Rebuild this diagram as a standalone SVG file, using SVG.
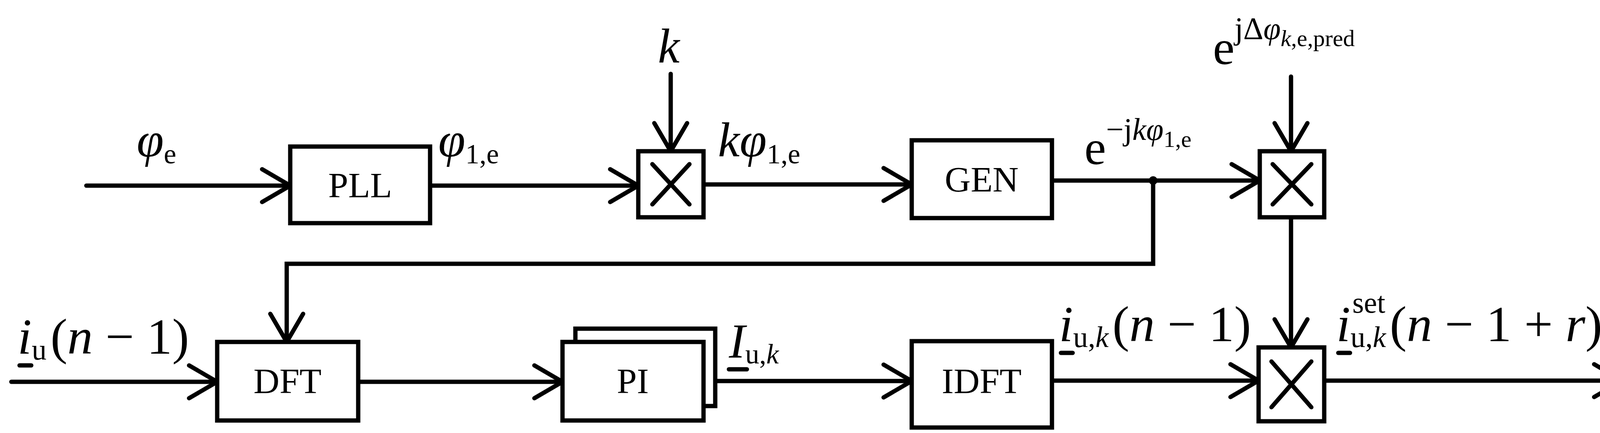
<svg xmlns="http://www.w3.org/2000/svg" width="4184" height="1108" viewBox="0 0 4184 1108">
<style>
.b{fill:#fff;stroke:#000;stroke-width:11}
.l{fill:none;stroke:#000;stroke-width:11;stroke-linecap:round}
.t{font-family:"Liberation Serif",serif;fill:#000}
.i{font-style:italic}
.n{font-size:92px;text-anchor:middle}
</style>
<defs>
<marker id="a" markerUnits="userSpaceOnUse" markerWidth="120" markerHeight="120" viewBox="-100 -60 120 120" refX="0" refY="0" orient="auto">
<path d="M-72,-42 L0,0 L-72,42" fill="none" stroke="#000" stroke-width="11" stroke-linecap="round"/>
</marker>
</defs>
<rect width="4184" height="1108" fill="#fff"/>
<g id="connectors">
<path class="l" d="M221,475 H743" marker-end="url(#a)"/>
<path class="l" d="M1106,475 H1634" marker-end="url(#a)"/>
<path class="l" d="M1717,189 V387" marker-end="url(#a)"/>
<path class="l" d="M1801,472 H2334" marker-end="url(#a)"/>
<path class="l" d="M2693,462 H3225" marker-end="url(#a)"/>
<path class="l" d="M2952,462 V675 H734 V875" marker-end="url(#a)"/>
<circle cx="2952" cy="462" r="11" fill="#000"/>
<path class="l" d="M3305,196 V387" marker-end="url(#a)"/>
<path class="l" d="M3305,556 V889" marker-end="url(#a)"/>
<path class="l" d="M29,977 H556" marker-end="url(#a)"/>
<path class="l" d="M917,977 H1440" marker-end="url(#a)"/>
<path class="l" d="M1831,975 H2334" marker-end="url(#a)"/>
<path class="l" d="M2693,974 H3222" marker-end="url(#a)"/>
<path class="l" d="M3390,974 H4153" marker-end="url(#a)"/>
</g>
<g id="pll"><rect class="b" x="743" y="375" width="358" height="196"/><text class="t n" x="922" y="505">PLL</text></g>
<g id="mult1"><rect class="b" x="1634" y="387" width="167" height="169"/><path class="l" d="M1670,420 L1765,523 M1765,420 L1670,523"/></g>
<g id="gen"><rect class="b" x="2334" y="359" width="359" height="199"/><text class="t n" x="2513" y="490">GEN</text></g>
<g id="mult2"><rect class="b" x="3225" y="387" width="165" height="169"/><path class="l" d="M3258,420 L3357,523 M3357,420 L3258,523"/></g>
<g id="dft"><rect class="b" x="556" y="875" width="361" height="201"/><text class="t n" x="736" y="1006">DFT</text></g>
<g id="pi"><rect class="b" x="1473" y="841" width="358" height="198"/><rect class="b" x="1440" y="875" width="361" height="201"/><text class="t n" x="1620" y="1006">PI</text></g>
<g id="idft"><rect class="b" x="2334" y="873" width="359" height="221"/><text class="t n" x="2513" y="1006">IDFT</text></g>
<g id="mult3"><rect class="b" x="3222" y="889" width="168" height="189"/><path class="l" d="M3255,925 L3357,1042 M3357,925 L3255,1042"/></g>
<g id="labels">
<text class="t" x="350" y="400" font-size="125"><tspan class="i">φ</tspan><tspan font-size="72" dy="18">e</tspan></text>
<text class="t" x="1122" y="400" font-size="125"><tspan class="i">φ</tspan><tspan font-size="72" dy="18">1,e</tspan></text>
<text class="t i" x="1712" y="160" font-size="125" text-anchor="middle">k</text>
<text class="t" x="1838" y="400" font-size="125"><tspan class="i">kφ</tspan><tspan font-size="72" dy="18">1,e</tspan></text>
<text class="t" x="2776" y="420" font-size="125">e<tspan font-size="80" dy="-62">−j<tspan class="i">kφ</tspan><tspan font-size="60" dy="18">1,e</tspan></tspan></text>
<text class="t" x="3105" y="164" font-size="125">e<tspan font-size="80" dy="-64">jΔ<tspan class="i">φ</tspan><tspan font-size="60" dy="18"><tspan class="i">k</tspan>,e,pred</tspan></tspan></text>
<text class="t" x="45" y="905" font-size="130"><tspan class="i">i</tspan><tspan font-size="76" dy="15">u</tspan><tspan dx="10" dy="-15">(</tspan><tspan class="i">n</tspan> − 1)</text>
<path class="l" d="M50,935 H80"/>
<text class="t" x="1866" y="915" font-size="125"><tspan class="i">I</tspan><tspan font-size="72" dy="15">u,<tspan class="i">k</tspan></tspan></text>
<path class="l" d="M1866,945 H1912"/>
<text class="t" x="2711" y="873" font-size="130"><tspan class="i">i</tspan><tspan font-size="76" dy="15">u,<tspan class="i">k</tspan></tspan><tspan dx="10" dy="-15">(</tspan><tspan class="i">n</tspan> − 1)</text>
<path class="l" d="M2716,903 H2746"/>
<text class="t" x="3421" y="873" font-size="130"><tspan class="i">i</tspan><tspan font-size="76" dy="15">u,<tspan class="i">k</tspan></tspan><tspan dx="10" dy="-15">(</tspan><tspan class="i">n</tspan> − 1 + <tspan class="i">r</tspan>)</text>
<text class="t" x="3462" y="800" font-size="76">set</text>
<path class="l" d="M3426,903 H3456"/>
</g>
</svg>
